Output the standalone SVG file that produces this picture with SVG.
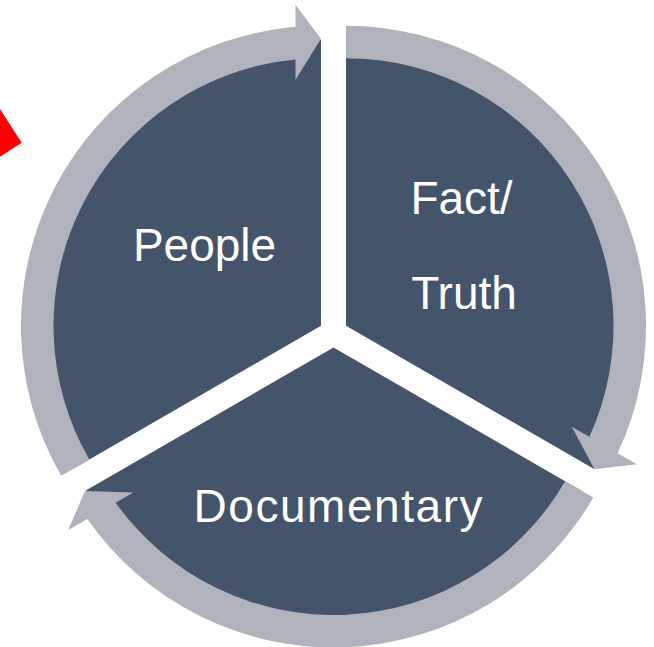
<svg xmlns="http://www.w3.org/2000/svg" width="654" height="647" viewBox="0 0 654 647">
<style>
.seg{fill:#44546A;}
.arr{fill:#B0B3BB;}
.lbl{font-family:"Liberation Sans","Open Sans",Arial,sans-serif;font-size:46px;fill:#FFFFFF;text-anchor:middle;}
</style>
<rect x="0" y="0" width="654" height="647" fill="#FFFFFF"/>
<polygon points="-5,101.2 21.7,142.7 -5,159.9" fill="#FF0000"/>
<g id="node-people">
<path class="seg" d="M321,325.785 L73.32,468.785 A286,286 0 0 1 321,39.785 Z"/>
</g>
<g id="node-fact">
<path class="seg" d="M346,325.785 L346,39.785 A286,286 0 0 1 593.68,468.785 Z"/>
</g>
<g id="node-documentary">
<path class="seg" d="M333.5,347.43 L581.18,490.43 A286,286 0 0 1 85.82,490.43 Z"/>
</g>
<g id="connectors">
<path class="arr" d="M61.19,475.785 A300,300 0 0 1 295.5,26.871 L295.5,4.785 L321,38.785 L295.5,79.785 L295.5,59.503 A267.5,267.5 0 0 0 89.34,459.535 Z"/>
<path class="arr" d="M346,25.785 A300,300 0 0 1 617.617,453.158 L636.744,464.201 L594.5,469.3 L571.792,426.701 L589.357,436.842 A267.5,267.5 0 0 0 346,58.285 Z"/>
<path class="arr" d="M593.308,497.43 A300,300 0 0 1 87.383,518.971 L68.256,530.014 L85,490.9 L133.208,492.514 L115.643,502.655 A267.5,267.5 0 0 0 565.162,481.18 Z"/>
</g>
<g id="labels">
<text class="lbl" x="204.5" y="261">People</text>
<text class="lbl" x="461.5" y="213.5">Fact/</text>
<text class="lbl" x="464" y="308.5">Truth</text>
<text class="lbl" x="338" y="522" textLength="289" lengthAdjust="spacing">Documentary</text>
</g>
</svg>
